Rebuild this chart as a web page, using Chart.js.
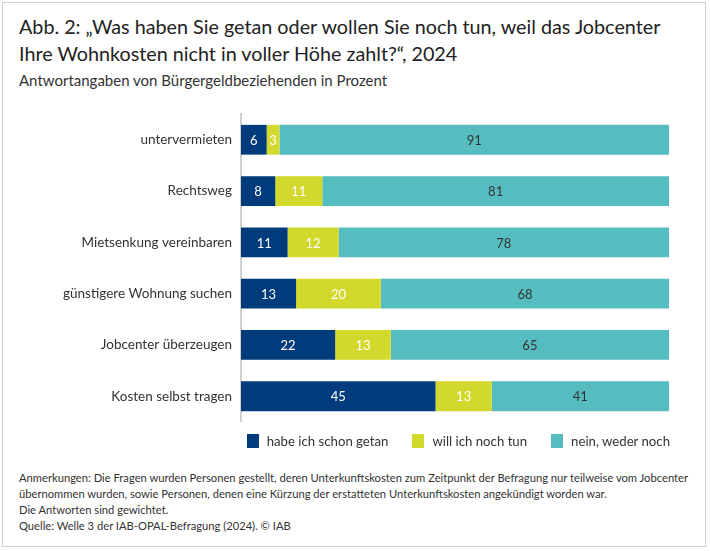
<!DOCTYPE html>
<html lang="de">
<head>
<meta charset="utf-8">
<script src="https://cdn.jsdelivr.net/npm/chart.js@4/dist/chart.umd.min.js"></script>
<style>
  html, body { margin: 0; padding: 0; background: #fff; }
  body { width: 710px; height: 551px; position: relative; font-family: Lato, sans-serif; color: #222; }
  #frame { position: absolute; left: 2px; top: 2px; width: 704px; height: 545px; border: 1px solid #cfcfcf; box-sizing: border-box; }
  h1 { position: absolute; left: 19px; top: 13px; margin: 0; font-size: 19.75px; font-weight: normal; line-height: 27px; width: 685px; }
  .sub { position: absolute; left: 19px; top: 71px; font-size: 15px; color: #333; }
  #wrap { position: absolute; left: 0; top: 97px; width: 700px; height: 342px; }
  #legend { position: absolute; right: 40px; top: 433px; display: flex; gap: 24px; font-size: 13.2px; color: #333; }
  #legend span.item { display: flex; align-items: center; }
  #legend i { display: inline-block; width: 12px; height: 14px; margin-right: 8px; }
  .notes { position: absolute; left: 19px; top: 470px; font-size: 11.2px; line-height: 16px; color: #333; width: 690px; }
</style>
</head>
<body>
<div id="frame"></div>
<h1>Abb. 2: „Was haben Sie getan oder wollen Sie noch tun, weil das Jobcenter<br>Ihre Wohnkosten nicht in voller Höhe zahlt?“, 2024</h1>
<div class="sub">Antwortangaben von Bürgergeldbeziehenden in Prozent</div>
<div id="wrap"><canvas id="chart"></canvas></div>
<div id="legend"></div>
<div class="notes">Anmerkungen: Die Fragen wurden Personen gestellt, deren Unterkunftskosten zum Zeitpunkt der Befragung nur teilweise vom Jobcenter<br>übernommen wurden, sowie Personen, denen eine Kürzung der erstatteten Unterkunftskosten angekündigt worden war.<br>Die Antworten sind gewichtet.<br>Quelle: Welle 3 der IAB-OPAL-Befragung (2024). © IAB</div>
<script>
const categories = [
  "untervermieten",
  "Rechtsweg",
  "Mietsenkung vereinbaren",
  "günstigere Wohnung suchen",
  "Jobcenter überzeugen",
  "Kosten selbst tragen"
];
const seriesNames = ["habe ich schon getan", "will ich noch tun", "nein, weder noch"];
const done = [6, 8, 11, 13, 22, 45];
const planned = [3, 11, 12, 20, 13, 13];
const neither = [91, 81, 78, 68, 65, 41];
const colors = ["#003b7c", "#d2d82c", "#55bdbf"];
const labelColors = ["#ffffff", "#ffffff", "#333333"];

// rounded values don't always add up to 100, the bars are full width anyway
const rowTotals = categories.map((c, i) => done[i] + planned[i] + neither[i]);
const share = arr => arr.map((v, i) => v / rowTotals[i] * 100);

const valueLabels = {
  id: 'valueLabels',
  afterDatasetsDraw(chart) {
    const ctx = chart.ctx;
    ctx.save();
    ctx.font = '13px Lato, sans-serif';
    ctx.textAlign = 'center';
    ctx.textBaseline = 'middle';
    chart.data.datasets.forEach((ds, d) => {
      chart.getDatasetMeta(d).data.forEach((bar, i) => {
        const x = (bar.base + bar.x) / 2;
        ctx.fillStyle = labelColors[d];
        ctx.fillText(ds.raw[i], x, bar.y + 1);
      });
    });
    ctx.restore();
  }
};

const sets = [done, planned, neither];
new Chart(document.getElementById('chart'), {
  type: 'bar',
  data: {
    labels: categories,
    datasets: sets.map((s, d) => ({
      label: seriesNames[d],
      data: share(s),
      raw: s,
      backgroundColor: colors[d],
      borderWidth: 0,
      barPercentage: 0.58,
      categoryPercentage: 1
    }))
  },
  options: {
    indexAxis: 'y',
    responsive: true,
    maintainAspectRatio: false,
    animation: false,
    layout: { padding: { left: 0, right: 31, top: 0, bottom: 0 } },
    scales: {
      x: {
        stacked: true, min: 0, max: 100,
        display: false
      },
      y: {
        stacked: true,
        afterFit: scale => { scale.width = 241; },
        grid: { display: false, drawTicks: false },
        border: { display: true, color: '#d0d0d0', width: 2 },
        ticks: { color: '#333', font: { family: 'Lato', size: 13.5 }, padding: 9 }
      }
    },
    plugins: {
      legend: { display: false },
      tooltip: { enabled: false }
    }
  },
  plugins: [valueLabels]
});

const legend = document.getElementById('legend');
seriesNames.forEach((name, d) => {
  const item = document.createElement('span');
  item.className = 'item';
  item.innerHTML = `<i style="background:${colors[d]}"></i>${name}`;
  legend.appendChild(item);
});
</script>
</body>
</html>
